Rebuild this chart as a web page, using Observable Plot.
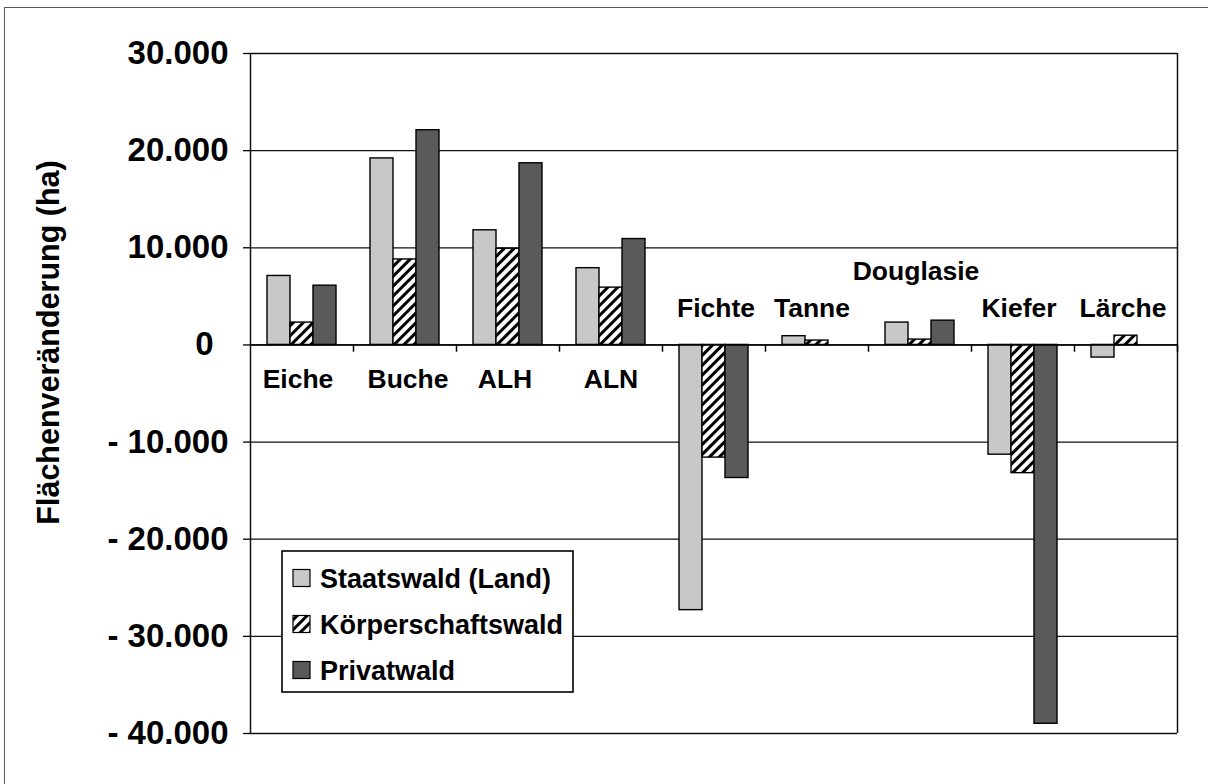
<!DOCTYPE html>
<html>
<head>
<meta charset="utf-8">
<script src="https://cdn.jsdelivr.net/npm/d3@7"></script>
<script src="https://cdn.jsdelivr.net/npm/@observablehq/plot@0.6"></script>
<style>
  body { margin: 0; background: #fff; }
  #wrap { position: relative; width: 1208px; height: 784px; overflow: hidden; background: #fff; }
  #border { position: absolute; left: 4px; top: 7px; width: 1260px; height: 840px; border: 1.5px solid #555; pointer-events: none; }
  #legend { position: absolute; left: 0; top: 0; pointer-events: none; }
  #chart svg { display: block; }
</style>
</head>
<body>
<svg width="0" height="0" style="position:absolute">
  <defs>
    <pattern id="hatch" patternUnits="userSpaceOnUse" width="7" height="7" patternTransform="rotate(45)">
      <rect width="7" height="7" fill="#fff"></rect>
      <rect width="3" height="7" fill="#000"></rect>
    </pattern>
  </defs>
</svg>
<div id="wrap">
  <div id="chart"></div>
  <svg id="legend" width="1208" height="784"></svg>
  <div id="border"></div>
</div>
<script>
// ---- data ----
const categories = ["Eiche", "Buche", "ALH", "ALN", "Fichte", "Tanne", "Douglasie", "Kiefer", "Lärche"];
const seriesNames = ["Staatswald (Land)", "Körperschaftswald", "Privatwald"];
const staatswald        = [7100, 19200, 11800, 7900, -27300, 900, 2300, -11300, -1300];
const koerperschaftswald = [2300, 8800, 9900, 5900, -11600, 450, 550, -13200, 950];
const privatwald        = [6100, 22100, 18700, 10900, -13700, 0, 2500, -39000, 0];
const yTicks = [30000, 20000, 10000, 0, -10000, -20000, -30000, -40000];
const yTitle = "Flächenveränderung (ha)";

// ---- layout / style ----
const seriesFill = {
  "Staatswald (Land)": "#c8c8c8",
  "Körperschaftswald": "url(#hatch)",
  "Privatwald": "#5a5a5a"
};
// label placement (in data units of y, px offsets in x)
const labelLayout = {
  "Eiche":     {y: -3570, dx: -4},
  "Buche":     {y: -3570, dx: 3},
  "ALH":       {y: -3570, dx: -3},
  "ALN":       {y: -3570, dx: 0},
  "Fichte":    {y: 3730, dx: 2},
  "Tanne":     {y: 3730, dx: -5},
  "Douglasie": {y: 7600, dx: -4},
  "Kiefer":    {y: 3730, dx: -4},
  "Lärche":    {y: 3730, dx: -3}
};
const W = 1208, H = 784;
const mL = 250, mR = 31, mT = 53, mB = 51;
const facetW = (W - mL - mR) / categories.length;
const catTickLen = 750; // in y data units (~7px)

const rows = categories.flatMap((c, i) => [
  {category: c, series: seriesNames[0], value: staatswald[i]},
  {category: c, series: seriesNames[1], value: koerperschaftswald[i]},
  {category: c, series: seriesNames[2], value: privatwald[i]}
]);

const fmt = d => d === 0 ? "0" : (d < 0 ? "- " : "") + d3.format(",")(Math.abs(d)).replace(/,/g, ".");
const font = "'Liberation Sans', Arial, Helvetica, sans-serif";
const lastCat = categories[categories.length - 1];

const plot = Plot.plot({
  width: W, height: H,
  marginLeft: mL, marginRight: mR, marginTop: mT, marginBottom: mB,
  style: {fontFamily: font, background: "transparent", color: "#000"},
  fx: {domain: categories, padding: 0, axis: null},
  x: {domain: seriesNames, paddingInner: 0, paddingOuter: 0.675, axis: null},
  y: {domain: [-40000, 30000], axis: null},
  marks: [
    Plot.gridY(yTicks, {stroke: "#111", strokeOpacity: 1, strokeWidth: 1.3}),
    Plot.ruleX([categories[0]], {fx: d => d, x: null, y1: -40000, y2: 30000, dx: -facetW / 2, stroke: "#111", strokeWidth: 1.5}),
    Plot.ruleX([lastCat], {fx: d => d, x: null, y1: -40000, y2: 30000, dx: facetW / 2, stroke: "#111", strokeWidth: 1.5}),
    Plot.barY(rows, {fx: "category", x: "series", y: "value", fill: d => seriesFill[d.series], stroke: "#000", strokeWidth: 1.4}),
    Plot.ruleY([0], {stroke: "#000", strokeWidth: 1.6}),
    Plot.ruleX(categories.slice(1), {fx: d => d, x: null, y1: 0, y2: -catTickLen, dx: -facetW / 2, stroke: "#000", strokeWidth: 1.5}),
    Plot.ruleX([lastCat], {fx: d => d, x: null, y1: 0, y2: -catTickLen, dx: facetW / 2, stroke: "#000", strokeWidth: 1.5}),
    Plot.axisY(yTicks.filter(t => t !== 0), {
      tickFormat: fmt, tickSize: 7, tickPadding: 15, fontSize: 33, fontWeight: "bold",
      fontFamily: font, stroke: "#000", strokeWidth: 1.3, label: null
    }),
    Plot.axisY([0], {
      tickFormat: fmt, tickSize: 7, tickPadding: 30, fontSize: 33, fontWeight: "bold",
      fontFamily: font, stroke: "#000", strokeWidth: 1.3, label: null
    }),
    ...categories.map(c => Plot.text([c], {
      fx: d => d, y: () => labelLayout[c].y, text: d => d, dx: labelLayout[c].dx,
      fontSize: 26.5, fontWeight: "bold", fontFamily: font, fill: "#000", lineAnchor: "middle"
    })),
    Plot.text([yTitle], {
      fx: () => categories[0], text: d => d, frameAnchor: "left", rotate: -90, textAnchor: "middle",
      dx: -201, dy: -51, fontSize: 30.5, fontWeight: "bold", fontFamily: font, fill: "#000", lineAnchor: "middle"
    })
  ]
});
document.getElementById("chart").appendChild(plot);

// ---- legend ----
const lg = d3.select("#legend");
const box = {x: 282, y: 551, w: 291, h: 141};
lg.append("rect").attr("x", box.x).attr("y", box.y).attr("width", box.w).attr("height", box.h)
  .attr("fill", "#fff").attr("stroke", "#000").attr("stroke-width", 1.6);
const rowY0 = 578, rowStep = 46, sw = 17;
seriesNames.forEach((s, i) => {
  const cy = rowY0 + i * rowStep;
  lg.append("rect").attr("x", 293).attr("y", cy - sw / 2).attr("width", sw).attr("height", sw)
    .attr("fill", seriesFill[s]).attr("stroke", "#000").attr("stroke-width", 1.2);
  lg.append("text").attr("x", 320).attr("y", cy).attr("dy", "0.36em")
    .attr("font-family", font).attr("font-weight", "bold").attr("font-size", 27)
    .attr("fill", "#000").text(s);
});
</script>
</body>
</html>
